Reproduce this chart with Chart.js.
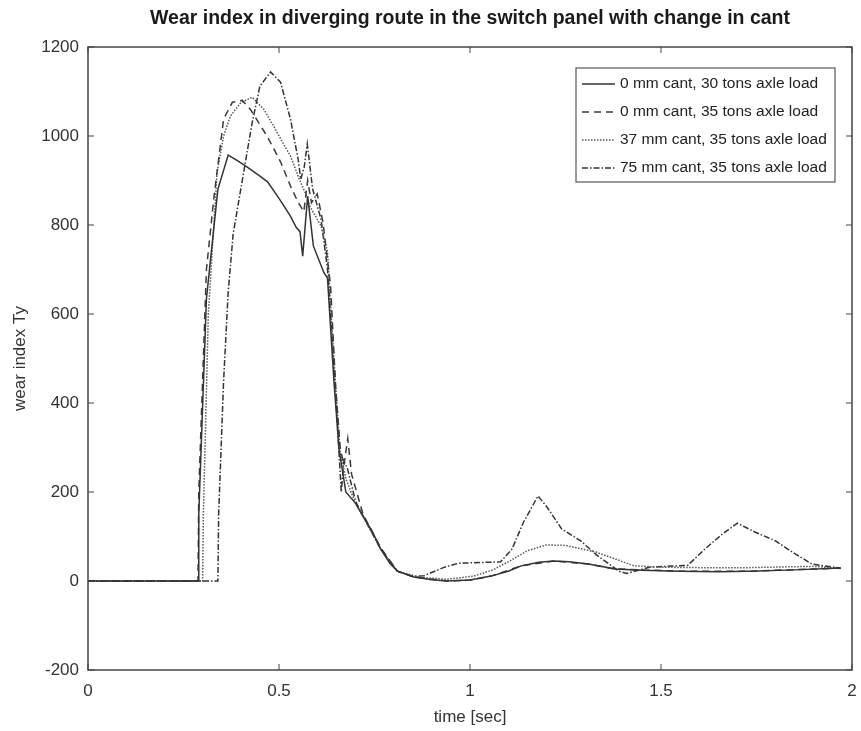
<!DOCTYPE html>
<html>
<head>
<meta charset="utf-8">
<script src="https://cdn.jsdelivr.net/npm/chart.js@4.4.1/dist/chart.umd.min.js"></script>
<style>
  html, body { margin: 0; padding: 0; background: #fff; }
  #wearChart { display: block; }
</style>
</head>
<body>
<canvas id="wearChart" width="861" height="731"></canvas>
<script>
// values
const seriesLabels = [
    '0 mm cant, 30 tons axle load',
    '0 mm cant, 35 tons axle load',
    '37 mm cant, 35 tons axle load',
    '75 mm cant, 35 tons axle load'
];

const time0mm30 = [0, 0.288, 0.29, 0.31, 0.34, 0.367, 0.39, 0.417, 0.45, 0.47, 0.5, 0.53, 0.545, 0.555, 0.562, 0.575, 0.59, 0.617, 0.627, 0.644, 0.657, 0.675, 0.7, 0.72, 0.745, 0.766, 0.79, 0.81, 0.853, 0.9, 0.94, 1.0, 1.055, 1.1, 1.134, 1.18, 1.22, 1.26, 1.31, 1.38, 1.45, 1.55, 1.65, 1.73, 1.85, 1.97];
const wear0mm30 = [0, 0, 150, 634, 880, 957, 945, 930, 910, 897, 860, 820, 795, 785, 730, 865, 753, 694, 680, 447, 297, 200, 175, 146, 110, 72, 40, 22, 9, 3, 0, 2, 11, 22, 34, 42, 45, 43, 38, 27, 24, 22, 21, 22, 25, 29];

const time0mm35 = [0, 0.288, 0.29, 0.31, 0.33, 0.355, 0.378, 0.404, 0.425, 0.446, 0.47, 0.504, 0.53, 0.55, 0.565, 0.575, 0.585, 0.6, 0.615, 0.635, 0.648, 0.66, 0.67, 0.68, 0.69, 0.72, 0.766, 0.81, 0.853, 0.94, 1.0, 1.055, 1.134, 1.22, 1.31, 1.38, 1.55, 1.73, 1.97];
const wear0mm35 = [0, 0, 200, 700, 865, 1038, 1076, 1080, 1060, 1031, 998, 942, 888, 851, 830, 900, 850, 870, 807, 663, 440, 300, 260, 320, 240, 150, 75, 22, 9, 0, 2, 11, 34, 45, 38, 27, 22, 22, 29];

const time37mm35 = [0, 0.3, 0.302, 0.315, 0.338, 0.355, 0.373, 0.4, 0.43, 0.46, 0.486, 0.51, 0.53, 0.556, 0.575, 0.58, 0.61, 0.627, 0.645, 0.66, 0.675, 0.7, 0.72, 0.766, 0.81, 0.87, 0.94, 1.01, 1.06, 1.1, 1.15, 1.2, 1.25, 1.33, 1.43, 1.5, 1.6, 1.73, 1.9, 1.97];
const wear37mm35 = [0, 0, 150, 600, 919, 1000, 1045, 1075, 1087, 1060, 1022, 985, 955, 897, 860, 843, 798, 739, 480, 290, 230, 175, 145, 72, 22, 8, 4, 11, 25, 43, 68, 81, 80, 65, 34, 31, 30, 30, 33, 28];

const time75mm35 = [0, 0.34, 0.342, 0.355, 0.367, 0.38, 0.4, 0.43, 0.45, 0.478, 0.504, 0.53, 0.55, 0.557, 0.566, 0.574, 0.588, 0.61, 0.627, 0.645, 0.655, 0.663, 0.67, 0.68, 0.7, 0.72, 0.766, 0.81, 0.85, 0.88, 0.93, 0.97, 1.08, 1.11, 1.14, 1.178, 1.2, 1.24, 1.29, 1.335, 1.39, 1.41, 1.47, 1.57, 1.615, 1.66, 1.7, 1.746, 1.8, 1.84, 1.895, 1.97];
const wear75mm35 = [0, 0, 150, 450, 650, 780, 881, 1031, 1112, 1144, 1121, 1038, 948, 903, 930, 982, 881, 813, 701, 470, 320, 200, 270, 250, 180, 146, 72, 22, 10, 12, 30, 40, 43, 72, 132, 191, 168, 117, 90, 56, 22, 17, 31, 35, 72, 105, 130, 110, 90, 67, 38, 29];

const xTickStep = 0.5;
const yTickStep = 200;

const seriesTimes = [time0mm30, time0mm35, time37mm35, time75mm35];
const seriesWear = [wear0mm30, wear0mm35, wear37mm35, wear75mm35];
const seriesDash = [[], [7, 5], [1.5, 1.5], [6, 2, 1.5, 2]];
const seriesColor = ['#333', '#3a3a3a', '#555', '#333'];

const fontFamily = "'Liberation Sans', Arial, sans-serif";

function toPoints(xs, ys) {
    return xs.map((x, i) => ({ x: x, y: ys[i] }));
}

const datasets = seriesLabels.map((label, i) => ({
    label: label,
    data: toPoints(seriesTimes[i], seriesWear[i]),
    showLine: true,
    borderColor: seriesColor[i],
    borderWidth: 1.5,
    borderDash: seriesDash[i],
    pointRadius: 0,
    tension: 0
}));

// box around the plot, inward ticks on all sides, legend in the upper right
const framePlugin = {
    id: 'frame',
    afterDraw(chart) {
        const ctx = chart.ctx;
        const a = chart.chartArea;
        const xs = chart.scales.x, ys = chart.scales.y;
        ctx.save();
        ctx.strokeStyle = '#444';
        ctx.lineWidth = 1.5;
        ctx.strokeRect(a.left, a.top, a.right - a.left, a.bottom - a.top);
        ctx.lineWidth = 1;
        const tl = 6;
        ctx.beginPath();
        xs.ticks.forEach(t => {
            const px = xs.getPixelForValue(t.value);
            ctx.moveTo(px, a.bottom); ctx.lineTo(px, a.bottom - tl);
            ctx.moveTo(px, a.top); ctx.lineTo(px, a.top + tl);
        });
        ys.ticks.forEach(t => {
            const py = ys.getPixelForValue(t.value);
            ctx.moveTo(a.left, py); ctx.lineTo(a.left + tl, py);
            ctx.moveTo(a.right, py); ctx.lineTo(a.right - tl, py);
        });
        ctx.stroke();

        // legend
        const bx = a.right - 276, by = a.top + 21, bw = 259, bh = 114;
        ctx.fillStyle = '#fff';
        ctx.fillRect(bx, by, bw, bh);
        ctx.strokeStyle = '#555';
        ctx.lineWidth = 1.2;
        ctx.strokeRect(bx, by, bw, bh);
        ctx.font = '15.5px ' + fontFamily;
        ctx.textBaseline = 'middle';
        ctx.fillStyle = '#222';
        chart.data.datasets.forEach((ds, i) => {
            const ry = by + 16 + i * 28;
            ctx.strokeStyle = ds.borderColor;
            ctx.lineWidth = 1.5;
            ctx.setLineDash(ds.borderDash);
            ctx.beginPath();
            ctx.moveTo(bx + 6, ry); ctx.lineTo(bx + 39, ry);
            ctx.stroke();
            ctx.setLineDash([]);
            ctx.fillText(ds.label, bx + 44, ry);
        });
        ctx.restore();
    }
};

new Chart(document.getElementById('wearChart'), {
    type: 'scatter',
    data: { datasets: datasets },
    options: {
        responsive: false,
        animation: false,
        layout: { padding: { left: 0, right: 9, top: 0, bottom: 0 } },
        plugins: {
            legend: { display: false },
            tooltip: { enabled: false },
            title: {
                display: true,
                fullSize: false,
                text: 'Wear index in diverging route in the switch panel with change in cant',
                color: '#1a1a1a',
                font: { family: fontFamily, size: 19.5, weight: 'bold' },
                padding: { top: 7, bottom: 16.6 }
            }
        },
        scales: {
            x: {
                type: 'linear',
                min: 0,
                max: 2,
                ticks: {
                    stepSize: xTickStep,
                    color: '#333',
                    font: { family: fontFamily, size: 17 },
                    padding: 11,
                    maxRotation: 0,
                    callback: v => String(v)
                },
                grid: { display: false, drawTicks: false },
                border: { display: false },
                title: {
                    display: true,
                    text: 'time [sec]',
                    color: '#333',
                    font: { family: fontFamily, size: 17 },
                    padding: { top: 0, bottom: 3 }
                },
                afterFit(scale) {
                    scale.height = 61;
                    scale.paddingLeft = 0;
                    scale.paddingRight = 0;
                }
            },
            y: {
                min: -200,
                max: 1200,
                ticks: {
                    stepSize: yTickStep,
                    color: '#333',
                    font: { family: fontFamily, size: 17 },
                    padding: 9,
                    callback: v => String(v)
                },
                grid: { display: false, drawTicks: false },
                border: { display: false },
                title: {
                    display: true,
                    text: 'wear index Ty',
                    color: '#333',
                    font: { family: fontFamily, size: 17 },
                    padding: { top: 10, bottom: 0 }
                },
                afterFit(scale) { scale.width = 88; }
            }
        }
    },
    plugins: [framePlugin]
});
</script>
</body>
</html>
